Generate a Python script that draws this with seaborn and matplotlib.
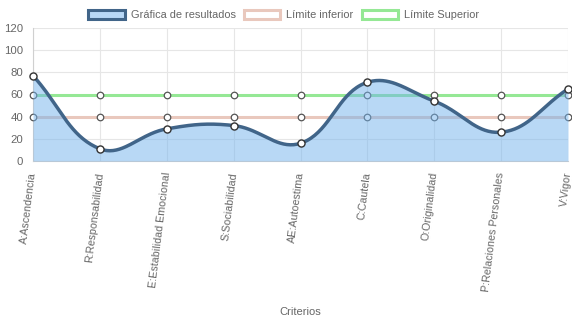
import numpy as np
import pandas as pd
import matplotlib
matplotlib.use("Agg")
import matplotlib.pyplot as plt
from matplotlib.patches import Patch
import seaborn as sns

# Data
criterios = ["A:Ascendencia", "R:Responsabilidad", "E:Estabilidad Emocional",
             "S:Sociabilidad", "AE:Autoestima", "C:Cautela", "O:Originalidad",
             "P:Relaciones Personales", "V:Vigor"]
resultados = [77, 11, 29, 32, 16, 71, 54, 26, 65]
limite_inferior = [40, 40, 40, 40, 40, 40, 40, 40, 40]
limite_superior = [60, 60, 60, 60, 60, 60, 60, 60, 60]
y_ticks = [0, 20, 40, 60, 80, 100, 120]

# Colours
c_line = "#416589"
c_fill = (0.45, 0.70, 0.93, 0.5)
c_inf = "#e9c8bd"
c_sup = "#95e895"
c_text = "#666666"
c_grid = "#e6e6e6"

# Pixel-ish aspect used for the cardinal spline (tension 0.4)
SX, SY = 66.9, 1.09
TENSION = 0.4


def spline_curve(xs, ys, n=40):
    px = np.asarray(xs, float) * SX
    py = np.asarray(ys, float) * SY
    m = len(px)
    cp_prev, cp_next = [], []
    for i in range(m):
        p0 = (px[max(i - 1, 0)], py[max(i - 1, 0)])
        p1 = (px[i], py[i])
        p2 = (px[min(i + 1, m - 1)], py[min(i + 1, m - 1)])
        d01 = np.hypot(p1[0] - p0[0], p1[1] - p0[1])
        d12 = np.hypot(p2[0] - p1[0], p2[1] - p1[1])
        tot = d01 + d12
        s01 = d01 / tot if tot else 0
        s12 = d12 / tot if tot else 0
        fa, fb = TENSION * s01, TENSION * s12
        cp_prev.append((p1[0] - fa * (p2[0] - p0[0]), p1[1] - fa * (p2[1] - p0[1])))
        cp_next.append((p1[0] + fb * (p2[0] - p0[0]), p1[1] + fb * (p2[1] - p0[1])))
    ox, oy = [], []
    t = np.linspace(0, 1, n)
    for i in range(m - 1):
        b0 = np.array([px[i], py[i]])
        b1 = np.array(cp_next[i])
        b2 = np.array(cp_prev[i + 1])
        b3 = np.array([px[i + 1], py[i + 1]])
        pts = ((1 - t)[:, None] ** 3 * b0 + 3 * ((1 - t) ** 2 * t)[:, None] * b1
               + 3 * ((1 - t) * t ** 2)[:, None] * b2 + (t ** 3)[:, None] * b3)
        if i > 0:
            pts = pts[1:]
        ox.extend(pts[:, 0])
        oy.extend(pts[:, 1])
    return np.array(ox) / SX, np.array(oy) / SY


sns.set_theme(style="white")
plt.rcParams["font.family"] = ["Liberation Sans", "DejaVu Sans"]

fig = plt.figure(figsize=(5.72, 3.22), dpi=100)
ax = fig.add_axes([33 / 572, 1 - 161 / 322, 535 / 572, 133 / 322])

xpos = np.arange(len(criterios))
df = pd.DataFrame({"x": xpos, "res": resultados,
                   "inf": limite_inferior, "sup": limite_superior})

# Limit lines (drawn below the results fill)
sns.lineplot(data=df, x="x", y="sup", ax=ax, color=c_sup, lw=2.2, zorder=2)
sns.lineplot(data=df, x="x", y="inf", ax=ax, color=c_inf, lw=2.2, zorder=2)
for col in ["sup", "inf"]:
    sns.scatterplot(data=df, x="x", y=col, ax=ax, s=22, color="white",
                    edgecolor="#555555", linewidth=0.9, zorder=3, clip_on=False)

# Results curve with fill
cx, cy = spline_curve(xpos, resultados)
cy = np.clip(cy, 0, 120)
curve = pd.DataFrame({"x": cx, "y": cy})
ax.fill_between(cx, 0, cy, color=c_fill, lw=0, zorder=4)
sns.lineplot(data=curve, x="x", y="y", ax=ax, color=c_line, lw=2.5,
             sort=False, zorder=5)
sns.scatterplot(data=df, x="x", y="res", ax=ax, s=26, color="white",
                edgecolor="#333333", linewidth=1.0, zorder=6, clip_on=False)

# Axes
ax.set_xlim(0, len(criterios) - 1)
ax.set_ylim(0, 120)
ax.set_yticks(y_ticks)
ax.set_xticks(xpos)
ax.set_xticklabels(criterios, rotation=83, ha="right", va="center",
                   rotation_mode="anchor")
ax.tick_params(axis="x", length=6, width=0.8, color=c_grid, pad=2,
               labelsize=7.7, labelcolor=c_text)
ax.tick_params(axis="y", length=5, width=0.8, color=c_grid, pad=2,
               labelsize=8.2, labelcolor=c_text)
ax.grid(True, color=c_grid, lw=0.8, zorder=0)
ax.set_axisbelow(True)
for s in ["top", "right"]:
    ax.spines[s].set_visible(False)
for s in ["left", "bottom"]:
    ax.spines[s].set_color("#d0d0d0")
    ax.spines[s].set_linewidth(0.8)
ax.set_xlabel("Criterios", color=c_text, fontsize=8.0)
ax.xaxis.set_label_coords(0.5, -1.095)
ax.set_ylabel("")

handles = [
    Patch(facecolor="#b8d8f6", edgecolor=c_line, linewidth=2.2, label="Gráfica de resultados"),
    Patch(facecolor="white", edgecolor=c_inf, linewidth=2.2, label="Límite inferior"),
    Patch(facecolor="white", edgecolor=c_sup, linewidth=2.2, label="Límite Superior"),
]
leg = fig.legend(handles=handles, loc="upper center", bbox_to_anchor=(0.496, 1.0),
                 ncol=3, frameon=False, fontsize=7.9, handlelength=3.3,
                 handleheight=0.9, columnspacing=0.75, handletextpad=0.55)
for t in leg.get_texts():
    t.set_color(c_text)

fig.savefig("out.png", dpi=100)
